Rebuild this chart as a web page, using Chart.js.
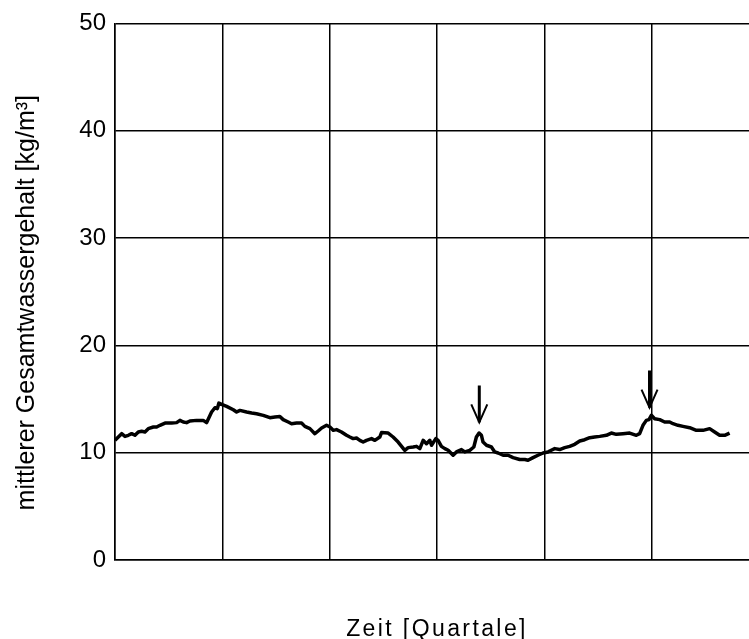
<!doctype html>
<html lang="de">
<head>
  <meta charset="utf-8">
  <title>Gesamtwassergehalt</title>
  <style>
    html, body { margin: 0; padding: 0; background: #fff; overflow: hidden; }
    #wrap { width: 770px; height: 639px; }
  </style>
</head>
<body>
  <div id="wrap"><canvas id="myChart" width="770" height="639"></canvas></div>

  <script src="https://cdn.jsdelivr.net/npm/chart.js@4/dist/chart.umd.min.js"></script>
  <script>
  // time in quarters (0..6)
  const quarter = [
    0.000, 0.031, 0.062, 0.093, 0.124, 0.155, 0.186, 0.217, 0.248, 0.279,
    0.310, 0.357, 0.388, 0.419, 0.466, 0.528, 0.574, 0.605, 0.636, 0.667,
    0.698, 0.760, 0.822, 0.853, 0.900, 0.931, 0.953, 0.968, 0.993, 1.040,
    1.102, 1.133, 1.164, 1.226, 1.273, 1.319, 1.381, 1.443, 1.490, 1.536,
    1.567, 1.614, 1.645, 1.692, 1.738, 1.769, 1.816, 1.862, 1.893, 1.925,
    1.971, 2.002, 2.033, 2.064, 2.110, 2.157, 2.188, 2.219, 2.250, 2.281,
    2.312, 2.343, 2.390, 2.421, 2.467, 2.483, 2.545, 2.591, 2.638, 2.700,
    2.731, 2.778, 2.809, 2.840, 2.871, 2.902, 2.933, 2.949, 2.989, 3.010,
    3.041, 3.073, 3.104, 3.150, 3.181, 3.228, 3.259, 3.305, 3.343, 3.367,
    3.392, 3.414, 3.429, 3.461, 3.507, 3.538, 3.569, 3.616, 3.662, 3.709,
    3.771, 3.818, 3.848, 3.895, 3.941, 3.988, 4.034, 4.050, 4.097, 4.143,
    4.190, 4.236, 4.283, 4.330, 4.376, 4.423, 4.469, 4.516, 4.578, 4.624,
    4.671, 4.733, 4.795, 4.857, 4.888, 4.919, 4.950, 4.975, 4.997, 5.028,
    5.075, 5.121, 5.168, 5.199, 5.245, 5.292, 5.354, 5.416, 5.478, 5.540,
    5.587, 5.633, 5.680, 5.726
  ];

  // mittlerer Gesamtwassergehalt [kg/m³]
  const water = [
    11.15, 11.46, 11.77, 11.52, 11.62, 11.77, 11.62, 11.93, 11.99, 11.93,
    12.24, 12.39, 12.39, 12.55, 12.76, 12.76, 12.80, 13.01, 12.86, 12.80,
    12.95, 13.01, 13.01, 12.80, 13.79, 14.19, 14.10, 14.62, 14.50, 14.31,
    14.00, 13.79, 13.94, 13.79, 13.69, 13.63, 13.48, 13.26, 13.32, 13.38,
    13.08, 12.86, 12.70, 12.76, 12.76, 12.45, 12.24, 11.77, 12.02, 12.30,
    12.55, 12.39, 12.08, 12.15, 11.93, 11.62, 11.46, 11.31, 11.37, 11.15,
    10.99, 11.15, 11.31, 11.15, 11.46, 11.87, 11.83, 11.46, 10.99, 10.22,
    10.47, 10.53, 10.59, 10.38, 11.15, 10.84, 11.15, 10.69, 11.31, 11.15,
    10.59, 10.38, 10.22, 9.76, 10.07, 10.29, 10.07, 10.22, 10.53, 11.46,
    11.83, 11.62, 10.99, 10.69, 10.53, 10.07, 9.97, 9.76, 9.76, 9.54,
    9.36, 9.36, 9.29, 9.54, 9.76, 9.97, 10.07, 10.16, 10.38, 10.29,
    10.47, 10.59, 10.78, 11.09, 11.21, 11.40, 11.46, 11.52, 11.62, 11.83,
    11.71, 11.77, 11.83, 11.62, 11.77, 12.55, 13.01, 13.08, 13.48, 13.17,
    13.08, 12.86, 12.86, 12.70, 12.55, 12.45, 12.33, 12.08, 12.08, 12.24,
    11.93, 11.62, 11.62, 11.83
  ];

  // the two arrows marking events
  const arrowX = [3.394, 4.98];
  const arrowTip = [12.83, 14.2];
  const arrowTail = [16.26, 17.66];

  const fontFamily = '"Liberation Sans", Arial, sans-serif';

  // wrap a scale's title drawing: extra letter spacing / small shift
  function patchTitle(scale, spacing, dy) {
    if (scale._patched) return;
    const orig = scale.drawTitle;
    scale.drawTitle = function () {
      this.ctx.save();
      this.ctx.letterSpacing = spacing;
      this.ctx.translate(0, dy);
      orig.call(this);
      this.ctx.restore();
    };
    scale._patched = true;
  }

  const arrows = {
    id: 'arrows',
    beforeDraw(chart) {
      patchTitle(chart.scales.x, '2.4px', 0);
      patchTitle(chart.scales.y, '0px', 11);
    },
    afterDatasetsDraw(chart) {
      const ctx = chart.ctx;
      const xs = chart.scales.x, ys = chart.scales.y;
      ctx.save();
      ctx.strokeStyle = '#000';
      ctx.lineCap = 'butt';
      arrowX.forEach((v, i) => {
        const x = xs.getPixelForValue(v);
        const yTip = ys.getPixelForValue(arrowTip[i]);
        const yTail = ys.getPixelForValue(arrowTail[i]);
        ctx.lineWidth = 3;
        ctx.beginPath();
        ctx.moveTo(x, yTail);
        ctx.lineTo(x, yTip);
        ctx.stroke();
        ctx.lineWidth = 2;
        ctx.beginPath();
        ctx.moveTo(x - 8, yTip - 18);
        ctx.lineTo(x, yTip);
        ctx.lineTo(x + 8, yTip - 18);
        ctx.stroke();
      });
      ctx.restore();
    }
  };

  const ctx = document.getElementById('myChart').getContext('2d');
  const chart = new Chart(ctx, {
    type: 'line',
    data: {
      datasets: [{
        label: 'Gesamtwassergehalt',
        data: quarter.map((q, i) => ({ x: q, y: water[i] })),
        borderColor: '#000',
        borderWidth: 3.5,
        pointRadius: 0,
        tension: 0,
        borderJoinStyle: 'round',
      }]
    },
    options: {
      responsive: false,
      animation: false,
      devicePixelRatio: 1,
      layout: { padding: { top: 22, right: 11, left: 0, bottom: 0 } },
      plugins: {
        legend: { display: false },
        tooltip: { enabled: false },
      },
      scales: {
        x: {
          type: 'linear',
          min: 0,
          max: 6,
          afterFit: s => { s.height = 79; },
          ticks: { display: false, stepSize: 1 },
          grid: { color: '#000', lineWidth: 1.5, drawTicks: false },
          border: { color: '#000', width: 1.5 },
          title: {
            display: true,
            text: 'Zeit [Quartale]',
            color: '#000',
            font: { family: fontFamily, size: 23, lineHeight: 0.85 },
            padding: { top: 0, bottom: 0 },
          },
        },
        y: {
          min: 0,
          max: 50,
          afterFit: s => { s.width = 115; },
          ticks: {
            stepSize: 10,
            color: '#000',
            padding: 9,
            font: { family: fontFamily, size: 24 },
          },
          grid: { color: '#000', lineWidth: 1.5, drawTicks: false },
          border: { color: '#000', width: 1.5 },
          title: {
            display: true,
            text: 'mittlerer Gesamtwassergehalt [kg/m³]',
            color: '#000',
            font: { family: fontFamily, size: 25, lineHeight: 1 },
            padding: { top: 15, bottom: 0 },
          },
        },
      },
    },
    plugins: [arrows],
  });
  </script>
</body>
</html>
